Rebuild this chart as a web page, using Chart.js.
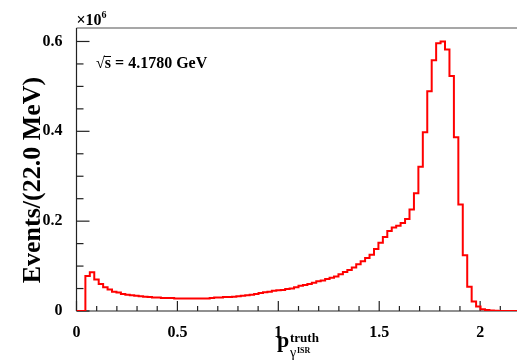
<!DOCTYPE html>
<html>
<head>
<meta charset="utf-8">
<script src="https://cdn.jsdelivr.net/npm/chart.js@4.4.1/dist/chart.umd.min.js"></script>
<style>
  html, body { margin: 0; padding: 0; background: #fff; overflow: hidden; }
  #histChart { display: block; }
</style>
</head>
<body>
<canvas id="histChart" width="525" height="363"></canvas>
<script>
// binning: 22 MeV bins from 0 to 2.2 GeV
const binWidth = 0.022;
const xMin = 0;
const xMax = 2.2;
const yMax = 0.63;          // in units of 10^6 events
const xTickLabels = [0, 0.5, 1, 1.5, 2];
const yTickLabels = [0, 0.2, 0.4, 0.6];

// events per bin (x10^6)
const counts = [
  0, 0, 0.078, 0.086, 0.070, 0.060, 0.053, 0.048, 0.043, 0.041,
  0.038, 0.036, 0.035, 0.034, 0.033, 0.032, 0.031, 0.030, 0.030, 0.029,
  0.029, 0.029, 0.028, 0.028, 0.028, 0.028, 0.028, 0.028, 0.028, 0.028,
  0.029, 0.030, 0.030, 0.031, 0.031, 0.032, 0.033, 0.034, 0.035, 0.036,
  0.038, 0.040, 0.042, 0.043, 0.045, 0.046, 0.047, 0.049, 0.050, 0.053,
  0.056, 0.058, 0.060, 0.063, 0.066, 0.068, 0.071, 0.074, 0.077, 0.082,
  0.087, 0.091, 0.097, 0.104, 0.111, 0.118, 0.125, 0.138, 0.152, 0.165,
  0.178, 0.186, 0.190, 0.196, 0.205, 0.226, 0.262, 0.321, 0.398, 0.489,
  0.558, 0.596, 0.600, 0.582, 0.523, 0.387, 0.237, 0.124, 0.054, 0.021,
  0.010, 0.004, 0.002, 0.001, 0.0005, 0, 0, 0, 0, 0
];

// step points at the left edge of each bin, plus the closing right edge
const points = counts.map((c, i) => ({ x: xMin + i * binWidth, y: c }));
points.push({ x: xMin + counts.length * binWidth, y: counts[counts.length - 1] });

const serif = '"Liberation Serif", "Times New Roman", serif';

function seg(ctx, x1, y1, x2, y2) {
  ctx.beginPath();
  ctx.moveTo(x1, y1);
  ctx.lineTo(x2, y2);
  ctx.stroke();
}

// ROOT-like frame, inward ticks and labels
const rootFrame = {
  id: 'rootFrame',
  beforeDatasetsDraw(chart) {
    const { ctx, chartArea: a, scales: { x, y } } = chart;
    ctx.save();
    ctx.strokeStyle = '#8a8a8a';
    ctx.lineWidth = 1.5;
    seg(ctx, a.left, a.top, a.right + 5, a.top);

    ctx.strokeStyle = '#222';
    ctx.lineWidth = 1.2;
    seg(ctx, a.left, a.top, a.left, a.bottom);
    seg(ctx, a.left, a.bottom, a.right + 5, a.bottom);

    // x ticks: major every 0.5, minor every 0.1
    for (let k = 0; k <= 22; k++) {
      const px = x.getPixelForValue(k * 0.1);
      const len = k % 5 === 0 ? 10 : 5;
      seg(ctx, px, a.bottom, px, a.bottom - len);
    }
    // y ticks: major every 0.2, minor every 0.05
    for (let k = 0; k * 0.05 <= yMax; k++) {
      const py = y.getPixelForValue(k * 0.05);
      const len = k % 4 === 0 ? 13 : 7;
      seg(ctx, a.left, py, a.left + len, py);
    }
    ctx.restore();
  },
  afterDraw(chart) {
    const { ctx, chartArea: a } = chart;
    ctx.save();
    ctx.fillStyle = '#000';
    ctx.textAlign = 'left';
    ctx.textBaseline = 'alphabetic';

    // exponent
    ctx.font = 'bold 16px ' + serif;
    ctx.fillText('\u00d710', a.left, 25);
    ctx.font = 'bold 10px ' + serif;
    ctx.fillText('6', a.left + 25, 18);

    // sqrt(s) label
    ctx.font = 'bold 16px ' + serif;
    const rad = '\u221a';
    ctx.fillText(rad + 's = 4.1780 GeV', 96, 68);
    const rw = ctx.measureText(rad).width;
    const sw = ctx.measureText('s').width;
    ctx.strokeStyle = '#000';
    ctx.lineWidth = 1;
    seg(ctx, 96 + rw - 1, 56.5, 96 + rw + sw, 56.5);

    // y title
    ctx.save();
    ctx.translate(40, 180);
    ctx.rotate(-Math.PI / 2);
    ctx.textAlign = 'center';
    ctx.font = 'bold 26px ' + serif;
    ctx.fillText('Events/(22.0 MeV)', 0, 0);
    ctx.restore();

    // x title: p^truth_{gamma^ISR}
    ctx.font = 'bold 22px ' + serif;
    ctx.fillText('p', 277, 347);
    ctx.font = 'bold 13px ' + serif;
    ctx.fillText('truth', 290, 341.5);
    ctx.font = '14px ' + serif;
    ctx.fillText('\u03b3', 290, 357);
    ctx.font = 'bold 8px ' + serif;
    ctx.fillText('ISR', 297, 353);
    ctx.restore();
  }
};

const ctx = document.getElementById('histChart').getContext('2d');
const histChart = new Chart(ctx, {
  type: 'line',
  data: {
    datasets: [
      {
        label: 'p truth',
        data: points,
        borderColor: '#ff0000',
        borderWidth: 2,
        stepped: 'before',
        pointRadius: 0,
        fill: false,
      },
    ],
  },
  options: {
    responsive: false,
    animation: false,
    events: [],
    layout: { padding: { left: 0, right: 4.5, top: 28, bottom: 0 } },
    plugins: {
      legend: { display: false },
      tooltip: { enabled: false },
    },
    scales: {
      x: {
        type: 'linear',
        min: xMin,
        max: xMax,
        grid: { display: false },
        border: { display: false },
        afterFit: (s) => { s.height = 52; },
        afterBuildTicks: (s) => { s.ticks = xTickLabels.map((v) => ({ value: v })); },
        ticks: {
          padding: 4,
          color: '#000',
          maxRotation: 0,
          font: { family: serif, size: 16, weight: 'bold' },
          callback: (v) => String(v),
        },
      },
      y: {
        min: 0,
        max: yMax,
        grid: { display: false },
        border: { display: false },
        afterFit: (s) => { s.width = 76.5; },
        afterBuildTicks: (s) => { s.ticks = yTickLabels.map((v) => ({ value: v })); },
        ticks: {
          padding: 6,
          color: '#000',
          font: { family: serif, size: 16, weight: 'bold' },
          callback: (v) => String(v),
        },
      },
    },
  },
  plugins: [rootFrame],
});
</script>
</body>
</html>
